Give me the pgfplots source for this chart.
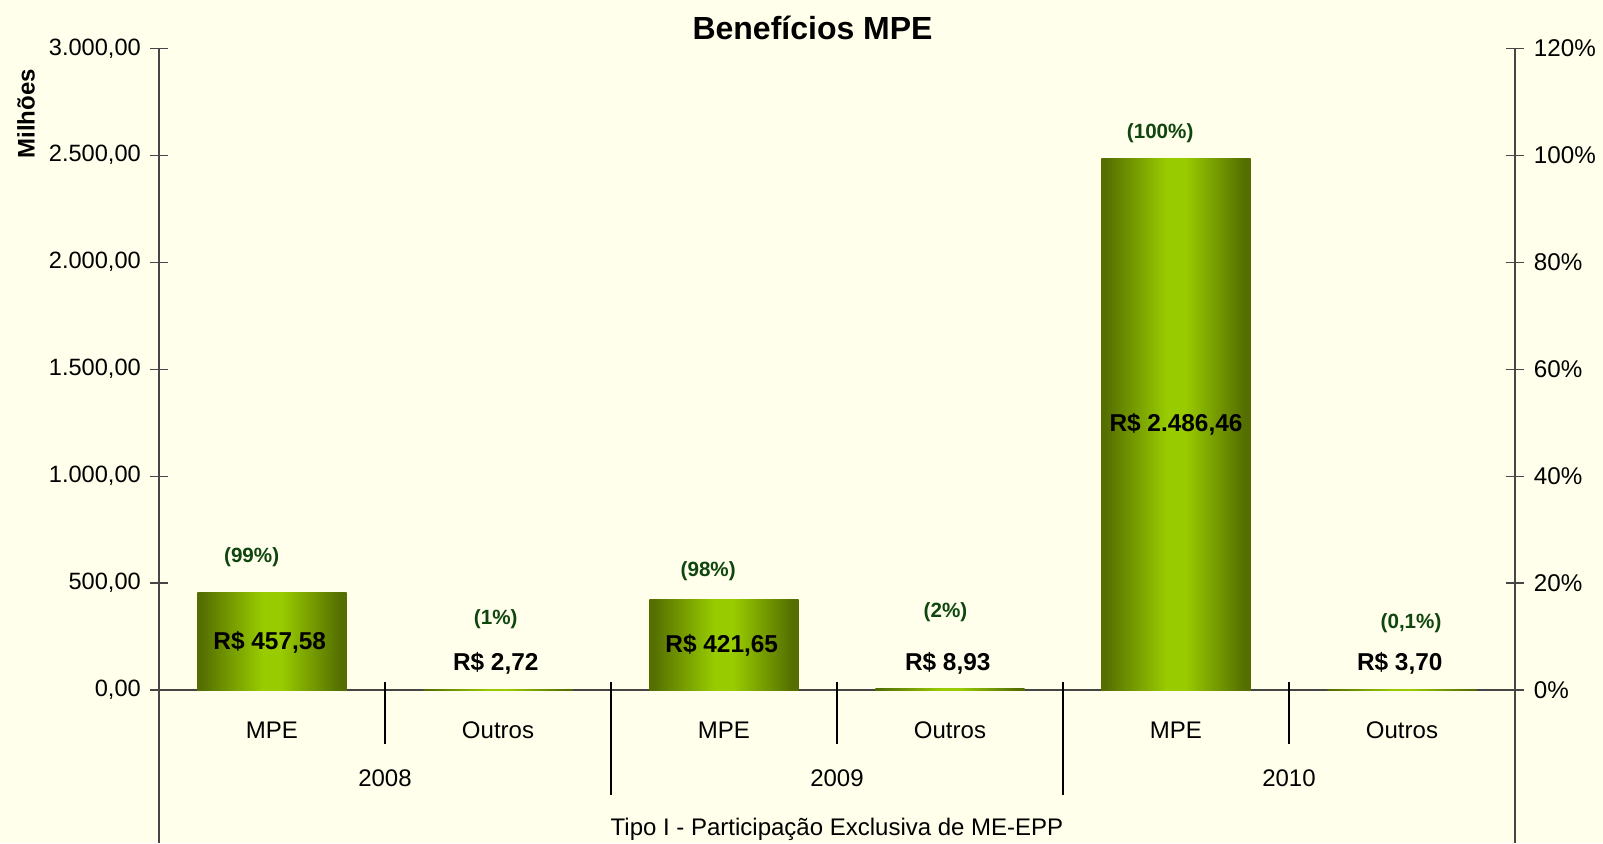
\documentclass[border=0pt]{standalone}
\usepackage{fontspec}
\setmainfont{Liberation Sans}
\usepackage{pgfplots}
\pgfplotsset{compat=1.18}
\definecolor{bg}{RGB}{255,255,235}
\definecolor{barEdge}{RGB}{84,110,0}
\definecolor{barMid}{RGB}{153,204,0}
\definecolor{pctGreen}{RGB}{15,70,15}
\definecolor{axisGray}{RGB}{70,70,70}
\pgfdeclarehorizontalshading{barshade}{100bp}{color(0bp)=(barEdge); color(26bp)=(barEdge); color(47bp)=(barMid); color(53bp)=(barMid); color(73bp)=(barEdge); color(100bp)=(barEdge)}
\pgfplotsset{barsty/.style={ybar, bar width=0.66, bar shift=0pt, draw=none, shade, shading=barshade}}
\begin{document}
\begin{tikzpicture}
\path[use as bounding box, fill=bg] (-79.5pt,-76.5pt) rectangle (722pt,345pt);
\begin{axis}[
  at={(0,0)}, anchor=south west, scale only axis,
  width=678pt, height=320.85pt,
  xmin=0, xmax=6, ymin=0, ymax=3000,
  clip=false,
  axis x line*=bottom, axis y line*=left,
  axis line style={axisGray, line width=0.6pt},
  ytick={0,500,...,3000},
  tick align=center, major tick length=9pt,
  tick style={axisGray, line width=0.6pt},
  xtick={0.5,1.5,2.5,3.5,4.5,5.5},
  xticklabels={MPE,Outros,MPE,Outros,MPE,Outros},
  x tick style={draw=none},
  xticklabel style={anchor=center, inner sep=0pt, yshift=-15.5pt, font=\fontsize{12}{14}\selectfont},
  yticklabel style={anchor=east, inner sep=0pt, xshift=-4.4pt, font=\fontsize{11.8}{14}\selectfont,
    /pgf/number format/.cd, fixed, fixed zerofill, precision=2, use comma, 1000 sep={.}, assume math mode=true},
  xlabel={Tipo I - Participação Exclusiva de ME-EPP},
  xlabel style={at={(axis description cs:0.5,0)}, anchor=center, yshift=-69.5pt, font=\fontsize{12}{14}\selectfont},
  ylabel={Milhões},
  ylabel style={at={(axis description cs:-0.0981,0.898)}, anchor=center, font=\bfseries\fontsize{12}{14}\selectfont},
  title={Benefícios MPE},
  title style={at={(axis description cs:0.482,1)}, anchor=center, yshift=4.4pt, font=\bfseries\fontsize{16}{19}\selectfont},
]
\addplot[barsty] coordinates {(0.5,457.58)};
\addplot[barsty] coordinates {(1.5,2.72)};
\addplot[barsty] coordinates {(2.5,421.65)};
\addplot[barsty] coordinates {(3.5,8.93)};
\addplot[barsty] coordinates {(4.5,2486.46)};
\addplot[barsty] coordinates {(5.5,3.70)};
% value labels
\begin{scope}[every node/.style={font=\bfseries\fontsize{12.2}{14}\selectfont, inner sep=0pt}]
\node at (axis cs:0.49,225) {R\$ 457,58};
\node at (axis cs:1.49,124) {R\$ 2,72};
\node at (axis cs:2.49,210) {R\$ 421,65};
\node at (axis cs:3.49,124) {R\$ 8,93};
\node at (axis cs:4.50,1242) {R\$ 2.486,46};
\node at (axis cs:5.49,124) {R\$ 3,70};
\end{scope}
% percentage labels
\begin{scope}[every node/.style={font=\bfseries\fontsize{10.3}{12}\selectfont, text=pctGreen, inner sep=0pt}]
\node at (axis cs:0.41,621) {(99\%)};
\node at (axis cs:1.49,330) {(1\%)};
\node at (axis cs:2.43,554) {(98\%)};
\node at (axis cs:3.48,363) {(2\%)};
\node at (axis cs:4.43,2604) {(100\%)};
\node at (axis cs:5.54,311) {(0,1\%)};
\end{scope}
% year labels
\begin{scope}[every node/.style={font=\fontsize{12}{14}\selectfont, inner sep=0pt}]
\node at (axis cs:1,0) [yshift=-44.3pt] {2008};
\node at (axis cs:3,0) [yshift=-44.3pt] {2009};
\node at (axis cs:5,0) [yshift=-44.3pt] {2010};
\end{scope}
% separators
\draw[black, line width=0.6pt] (axis cs:1,0) ++(0,4pt) -- ++(0,-31pt);
\draw[black, line width=0.6pt] (axis cs:3,0) ++(0,4pt) -- ++(0,-31pt);
\draw[black, line width=0.6pt] (axis cs:5,0) ++(0,4pt) -- ++(0,-31pt);
\draw[black, line width=0.6pt] (axis cs:2,0) ++(0,4pt) -- ++(0,-56.3pt);
\draw[black, line width=0.6pt] (axis cs:4,0) ++(0,4pt) -- ++(0,-56.3pt);
\draw[axisGray, line width=0.6pt] (axis cs:0,0) -- ++(0,-76.5pt);
\draw[axisGray, line width=0.6pt] (axis cs:6,0) -- ++(0,-76.5pt);
\end{axis}
\begin{axis}[
  at={(0,0)}, anchor=south west, scale only axis,
  width=678pt, height=320.85pt,
  xmin=0, xmax=6, ymin=0, ymax=120,
  axis y line*=right, axis x line=none,
  axis line style={axisGray, line width=0.6pt},
  ytick={0,20,...,120},
  yticklabel={\pgfmathprintnumber{\tick}\%},
  tick align=center, major tick length=9pt,
  tick style={axisGray, line width=0.6pt},
  yticklabel style={anchor=west, inner sep=0pt, xshift=4.8pt, font=\fontsize{12.1}{14}\selectfont,
    /pgf/number format/assume math mode=true},
]
\addplot[draw=none] coordinates {(0,0)};
\end{axis}
\end{tikzpicture}
\end{document}
